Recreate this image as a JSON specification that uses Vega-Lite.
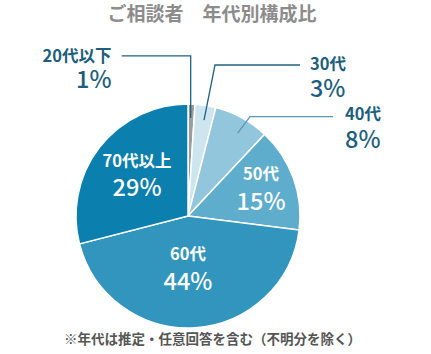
{
  "$schema": "https://vega.github.io/schema/vega-lite/v6.json",
  "width": 224,
  "height": 224,
  "autosize": {"type": "none"},
  "padding": {"left": 76, "top": 104, "right": 131, "bottom": 26},
  "background": "white",
  "config": {"view": {"stroke": null}, "font": "Noto Sans CJK JP"},
  "datasets": {
    "pie": [
      {"age": "20代以下", "value": 1, "order": 1},
      {"age": "30代", "value": 3, "order": 2},
      {"age": "40代", "value": 8, "order": 3},
      {"age": "50代", "value": 15, "order": 4},
      {"age": "60代", "value": 44, "order": 5},
      {"age": "70代以上", "value": 29, "order": 6}
    ],
    "labels": [
      {"age": "20代以下", "pct": "1%", "side": "right", "x": -68.3, "yName": 142.0, "yPct": 120.5},
      {"age": "30代", "pct": "3%", "side": "left", "x": 108.9, "yName": 134.8, "yPct": 112.5},
      {"age": "40代", "pct": "8%", "side": "left", "x": 140.2, "yName": 90.2, "yPct": 67.0},
      {"age": "50代", "pct": "15%", "side": "inside", "x": 65.2, "yName": 36.6, "yPct": 11.6},
      {"age": "60代", "pct": "44%", "side": "inside", "x": 0, "yName": -34.8, "yPct": -59.8},
      {"age": "70代以上", "pct": "29%", "side": "inside", "x": -45.5, "yName": 48.2, "yPct": 24.1}
    ],
    "leaders": [
      {"age": "20代以下", "step": 1, "x": -59.2, "y": 142.9},
      {"age": "20代以下", "step": 2, "x": 2.4, "y": 142.9},
      {"age": "20代以下", "step": 3, "x": 2.4, "y": 87.5},
      {"age": "30代", "step": 1, "x": 100.0, "y": 134.8},
      {"age": "30代", "step": 2, "x": 24.1, "y": 134.8},
      {"age": "30代", "step": 3, "x": 14.3, "y": 85.7},
      {"age": "40代", "step": 1, "x": 129.5, "y": 88.7},
      {"age": "40代", "step": 2, "x": 55.4, "y": 88.7},
      {"age": "40代", "step": 3, "x": 44.4, "y": 73.9}
    ],
    "notes": [
      {"kind": "title", "text": "ご相談者　年代別構成比", "x": 21.4, "y": 179.5},
      {"kind": "note", "text": "※年代は推定・任意回答を含む（不明分を除く）", "x": 21.9, "y": -110.7}
    ]
  },
  "layer": [
    {
      "data": {"name": "pie"},
      "mark": {"type": "arc", "stroke": "white", "strokeWidth": 1.5},
      "encoding": {
        "theta": {"field": "value", "type": "quantitative", "stack": true},
        "order": {"field": "order", "type": "quantitative"},
        "color": {
          "field": "age",
          "type": "nominal",
          "legend": null,
          "scale": {
            "domain": ["20代以下", "30代", "40代", "50代", "60代", "70代以上"],
            "range": ["#9c9c9c", "#cde5ef", "#92c6dc", "#5fadcc", "#3195be", "#0b7fad"]
          }
        }
      }
    },
    {
      "data": {"name": "leaders"},
      "mark": {"type": "line", "strokeWidth": 1.3},
      "encoding": {
        "x": {"field": "x", "type": "quantitative", "scale": {"domain": [-100, 100], "nice": false, "zero": false}, "axis": null},
        "y": {"field": "y", "type": "quantitative", "scale": {"domain": [-100, 100], "nice": false, "zero": false}, "axis": null},
        "detail": {"field": "age", "type": "nominal"},
        "order": {"field": "step", "type": "quantitative"},
        "stroke": {
          "field": "age",
          "type": "nominal",
          "legend": null,
          "scale": {"domain": ["20代以下", "30代", "40代"], "range": ["#1f6282", "#1f6282", "#5b97b2"]}
        }
      }
    },
    {
      "data": {"name": "labels"},
      "transform": [{"filter": "datum.side === 'right'"}],
      "layer": [
        {
          "mark": {"type": "text", "align": "right", "baseline": "middle", "fontSize": 16.5, "fontWeight": "bold", "color": "#1c5e7c"},
          "encoding": {
            "x": {"field": "x", "type": "quantitative"},
            "y": {"field": "yName", "type": "quantitative"},
            "text": {"field": "age"}
          }
        },
        {
          "mark": {"type": "text", "align": "right", "baseline": "middle", "fontSize": 23.5, "fontWeight": 500, "color": "#1c5e7c"},
          "encoding": {
            "x": {"field": "x", "type": "quantitative"},
            "y": {"field": "yPct", "type": "quantitative"},
            "text": {"field": "pct"}
          }
        }
      ]
    },
    {
      "data": {"name": "labels"},
      "transform": [{"filter": "datum.side === 'left'"}],
      "layer": [
        {
          "mark": {"type": "text", "align": "left", "baseline": "middle", "fontSize": 16.5, "fontWeight": "bold", "color": "#1c5e7c"},
          "encoding": {
            "x": {"field": "x", "type": "quantitative"},
            "y": {"field": "yName", "type": "quantitative"},
            "text": {"field": "age"}
          }
        },
        {
          "mark": {"type": "text", "align": "left", "baseline": "middle", "fontSize": 23.5, "fontWeight": 500, "color": "#1c5e7c"},
          "encoding": {
            "x": {"field": "x", "type": "quantitative"},
            "y": {"field": "yPct", "type": "quantitative"},
            "text": {"field": "pct"}
          }
        }
      ]
    },
    {
      "data": {"name": "labels"},
      "transform": [{"filter": "datum.side === 'inside'"}],
      "layer": [
        {
          "mark": {"type": "text", "align": "center", "baseline": "middle", "fontSize": 16.5, "fontWeight": "bold", "color": "white"},
          "encoding": {
            "x": {"field": "x", "type": "quantitative"},
            "y": {"field": "yName", "type": "quantitative"},
            "text": {"field": "age"}
          }
        },
        {
          "mark": {"type": "text", "align": "center", "baseline": "middle", "fontSize": 23.5, "fontWeight": 500, "color": "white"},
          "encoding": {
            "x": {"field": "x", "type": "quantitative"},
            "y": {"field": "yPct", "type": "quantitative"},
            "text": {"field": "pct"}
          }
        }
      ]
    },
    {
      "data": {"name": "notes"},
      "transform": [{"filter": "datum.kind === 'title'"}],
      "mark": {"type": "text", "align": "center", "baseline": "middle", "fontSize": 19, "fontWeight": "bold", "color": "#8c8c8c"},
      "encoding": {
        "x": {"field": "x", "type": "quantitative"},
        "y": {"field": "y", "type": "quantitative"},
        "text": {"field": "text"}
      }
    },
    {
      "data": {"name": "notes"},
      "transform": [{"filter": "datum.kind === 'note'"}],
      "mark": {"type": "text", "align": "center", "baseline": "middle", "fontSize": 13.5, "fontWeight": "bold", "color": "#555555"},
      "encoding": {
        "x": {"field": "x", "type": "quantitative"},
        "y": {"field": "y", "type": "quantitative"},
        "text": {"field": "text"}
      }
    }
  ]
}
